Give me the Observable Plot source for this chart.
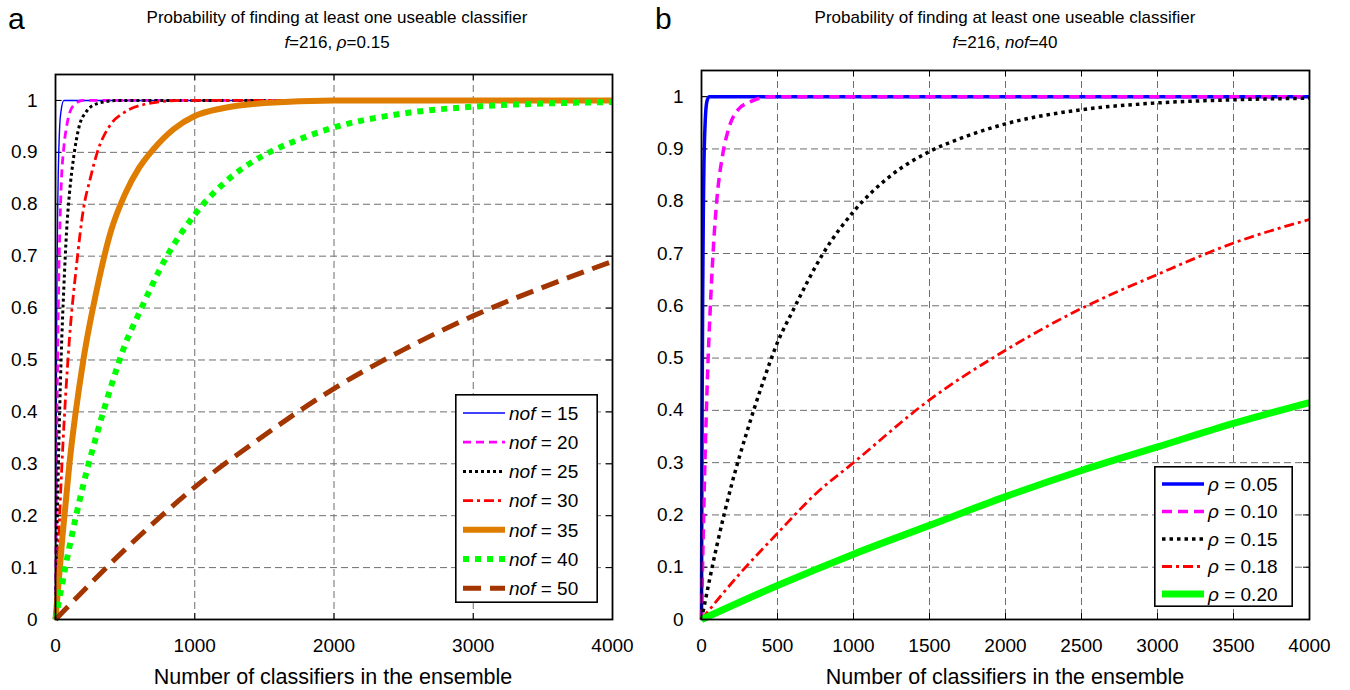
<!DOCTYPE html>
<html><head><meta charset="utf-8">
<script src="https://cdn.jsdelivr.net/npm/d3@7"></script>
<script src="https://cdn.jsdelivr.net/npm/@observablehq/plot@0.6"></script>
<style>
body{margin:0;background:#fff;font-family:"Liberation Sans",Arial,sans-serif;color:#000}
#wrap{position:relative;width:1350px;height:690px;overflow:hidden;background:#fff}
.abs{position:absolute}
.title{font-size:17px;text-align:center;line-height:25px;white-space:nowrap}
.xlabel{font-size:21.5px;text-align:center;line-height:24px;white-space:nowrap}
.letter{font-size:30px;line-height:30px}
</style></head><body><div id="wrap"></div>
<script>
// ---------- data ----------
const tickYvals = [0,0.1,0.2,0.3,0.4,0.5,0.6,0.7,0.8,0.9,1];
const tickYtext = ["0","0.1","0.2","0.3","0.4","0.5","0.6","0.7","0.8","0.9","1"];
const tickXa = [0,1000,2000,3000,4000];
const tickXaText = ["0","1000","2000","3000","4000"];
const tickXb = [0,500,1000,1500,2000,2500,3000,3500,4000];
const tickXbText = ["0","500","1000","1500","2000","2500","3000","3500","4000"];

const nofLabels = ["15","20","25","30","35","40","50"];
const rhoLabels = ["0.05","0.10","0.15","0.18","0.20"];

// panel a : f=216, rho=0.15
const a15x = [0,3,6,10,15,20,30,40,60,4000];
const a15y = [0,0.26,0.45,0.63,0.78,0.86,0.95,0.98,1,1];
const a20x = [0,10,20,30,40,60,80,100,140,200,4000];
const a20y = [0,0.37,0.6,0.74,0.83,0.91,0.95,0.975,0.993,1,1];
const a25x = [0,20,40,60,80,100,130,170,220,300,450,4000];
const a25y = [0,0.29,0.5,0.64,0.75,0.82,0.89,0.95,0.978,0.994,1,1];
const a30x = [0,50,100,150,200,250,300,400,500,650,900,4000];
const a30y = [0,0.32,0.54,0.68,0.79,0.85,0.9,0.955,0.978,0.993,1,1];
const a35x = [0,50,100,200,300,400,500,600,700,850,1000,1200,1500,2000,4000];
const a35y = [0,0.16,0.3,0.5,0.64,0.75,0.82,0.87,0.905,0.945,0.97,0.985,0.995,1,1];
const a40x = [0,100,200,300,400,500,600,800,1000,1250,1500,1750,2000,2500,3000,3500,4000];
const a40y = [0,0.14,0.26,0.36,0.45,0.53,0.59,0.7,0.78,0.85,0.895,0.925,0.948,0.975,0.988,0.994,0.997];
const a50x = [0,500,1000,1500,2000,2500,3000,3500,4000];
const a50y = [0,0.135,0.255,0.355,0.445,0.52,0.585,0.64,0.69];

// panel b : f=216, nof=40
const b05x = [0,2,4,8,12,16,24,35,50,4000];
const b05y = [0,0.22,0.4,0.63,0.78,0.87,0.95,0.99,1,1];
const b10x = [0,20,40,60,80,100,140,180,240,320,450,4000];
const b10y = [0,0.27,0.47,0.61,0.72,0.8,0.89,0.94,0.975,0.99,1,1];
const b15x = [0,100,200,300,400,500,600,800,1000,1250,1500,1750,2000,2500,3000,3500,4000];
const b15y = [0,0.14,0.26,0.36,0.45,0.53,0.59,0.7,0.78,0.85,0.895,0.925,0.948,0.975,0.988,0.994,0.997];
const b18x = [0,250,500,750,1000,1500,2000,2500,3000,3500,4000];
const b18y = [0,0.087,0.165,0.24,0.3,0.42,0.515,0.595,0.66,0.72,0.765];
const b20x = [0,500,1000,1500,2000,2500,3000,3500,4000];
const b20y = [0,0.065,0.125,0.18,0.235,0.285,0.33,0.375,0.415];

// ---------- styles ----------
const stylesA = [
  {stroke:"#0000ff", w:1.4, dash:null},
  {stroke:"#ff00ff", w:2.8, dash:"8,5"},
  {stroke:"#000000", w:3, dash:"3,3"},
  {stroke:"#ff0000", w:2.8, dash:"10,4,3,4"},
  {stroke:"#de7d00", w:6, dash:null},
  {stroke:"#00ff00", w:6, dash:"6,6"},
  {stroke:"#a33500", w:5, dash:"18,9"}
];
const stylesB = [
  {stroke:"#0000ff", w:3.5, dash:null},
  {stroke:"#ff00ff", w:3.5, dash:"10,6"},
  {stroke:"#000000", w:3.5, dash:"3.5,4"},
  {stroke:"#ff0000", w:2.8, dash:"10,4,3,4"},
  {stroke:"#00ff00", w:7, dash:null}
];

const rows = (xs, ys) => xs.map((x,i)=>({n:x, p:ys[i]}));
const seriesA = [rows(a15x,a15y),rows(a20x,a20y),rows(a25x,a25y),rows(a30x,a30y),rows(a35x,a35y),rows(a40x,a40y),rows(a50x,a50y)];
const seriesB = [rows(b05x,b05y),rows(b10x,b10y),rows(b15x,b15y),rows(b18x,b18y),rows(b20x,b20y)];

const FONT = '"Liberation Sans", Arial, sans-serif';

function makePanel({width,height,ml,mr,mt,mb,xTicks,xText,series,styles,ymax}) {
  const tx = 4000/(width-ml-mr)*6, ty = ymax/(height-mt-mb)*6;
  const grid = {stroke:"#6e6e6e", strokeDasharray:"7,4", strokeWidth:1};
  const marks = [
    Plot.ruleY(tickYvals.filter(v=>v>0), grid),
    Plot.ruleX(xTicks.filter(v=>v>0 && v<4000), grid),
    Plot.ruleX(xTicks, {x:d=>d, y1:0, y2:ty, stroke:"#000"}),
    Plot.ruleX(xTicks, {x:d=>d, y1:ymax-ty, y2:ymax, stroke:"#000"}),
    Plot.ruleY(tickYvals, {y:d=>d, x1:0, x2:tx, stroke:"#000"}),
    Plot.ruleY(tickYvals, {y:d=>d, x1:4000-tx, x2:4000, stroke:"#000"}),
    ...series.map((s,i)=>Plot.line(s, {x:"n", y:"p", stroke:styles[i].stroke, strokeWidth:styles[i].w,
        strokeDasharray:styles[i].dash, strokeLinecap:"butt", strokeLinejoin:"round", curve:"monotone-x"})),
    Plot.frame({stroke:"#000", strokeWidth:1.8}),
    Plot.axisX(xTicks, {tickSize:0, tickPadding:19, fontSize:19, label:null,
        tickFormat:d=>xText[xTicks.indexOf(d)]}),
    Plot.axisY(tickYvals, {tickSize:0, tickPadding:18, fontSize:19, label:null,
        tickFormat:d=>tickYtext[tickYvals.indexOf(d)]})
  ];
  return Plot.plot({
    width, height, marginLeft:ml, marginRight:mr, marginTop:mt, marginBottom:mb,
    x:{domain:[0,4000]}, y:{domain:[0,ymax]},
    style:{fontFamily:FONT, fontSize:"19px", color:"#000", background:"transparent", overflow:"visible"},
    marks
  });
}

const wrap = document.getElementById("wrap");
function place(el, left, top) { el.classList.add("abs"); el.style.left = left+"px"; el.style.top = top+"px"; wrap.appendChild(el); return el; }

const pa = makePanel({width:675, height:690, ml:55, mr:63, mt:74, mb:71, xTicks:tickXa, xText:tickXaText, series:seriesA, styles:stylesA, ymax:1.05});
place(pa, 0, 0);
const pb = makePanel({width:690, height:690, ml:41, mr:41, mt:70, mb:71, xTicks:tickXb, xText:tickXbText, series:seriesB, styles:stylesB, ymax:1.05});
place(pb, 660, 0);

function html(tag, cls, inner) { const e = document.createElement(tag); e.className = cls; e.innerHTML = inner; return e; }
place(html("div","title","Probability of finding at least one useable classifier<br><i>f</i>=216, <i>ρ</i>=0.15"), 37, 5).style.width = "600px";
place(html("div","title","Probability of finding at least one useable classifier<br><i>f</i>=216, <i>nof</i>=40"), 705, 5).style.width = "600px";
place(html("div","xlabel","Number of classifiers in the ensemble"), 33, 665).style.width = "600px";
place(html("div","xlabel","Number of classifiers in the ensemble"), 705, 665).style.width = "600px";
place(html("div","letter","a"), 8, 4);
place(html("div","letter","b"), 655, 4);

function legend(left, top, w, h, labels, styles, prefix, y0, step) {
  const svg = d3.create("svg").attr("width", w).attr("height", h).style("overflow","visible");
  svg.append("rect").attr("x",0.8).attr("y",0.8).attr("width",w-1.6).attr("height",h-1.6)
     .attr("fill","#fff").attr("stroke","#000").attr("stroke-width",1.6);
  labels.forEach((lab,i)=>{
    const y = y0 + i*step, st = styles[i];
    svg.append("line").attr("x1",8).attr("x2",50).attr("y1",y).attr("y2",y)
      .attr("stroke",st.stroke).attr("stroke-width",st.w).attr("stroke-dasharray",st.dash)
      .attr("stroke-linecap","butt");
    const t = svg.append("text").attr("x",54).attr("y",y).attr("dy","0.36em")
      .attr("font-family",FONT).attr("font-size",19).attr("fill","#000");
    t.append("tspan").attr("font-style","italic").text(prefix);
    t.append("tspan").text(" = " + lab);
  });
  place(svg.node(), left, top);
}
legend(455, 394, 143, 209, nofLabels, stylesA, "nof", 19, 29.2);
legend(1154, 466, 139, 141, rhoLabels, stylesB, "ρ", 18, 27.5);
</script></body></html>
